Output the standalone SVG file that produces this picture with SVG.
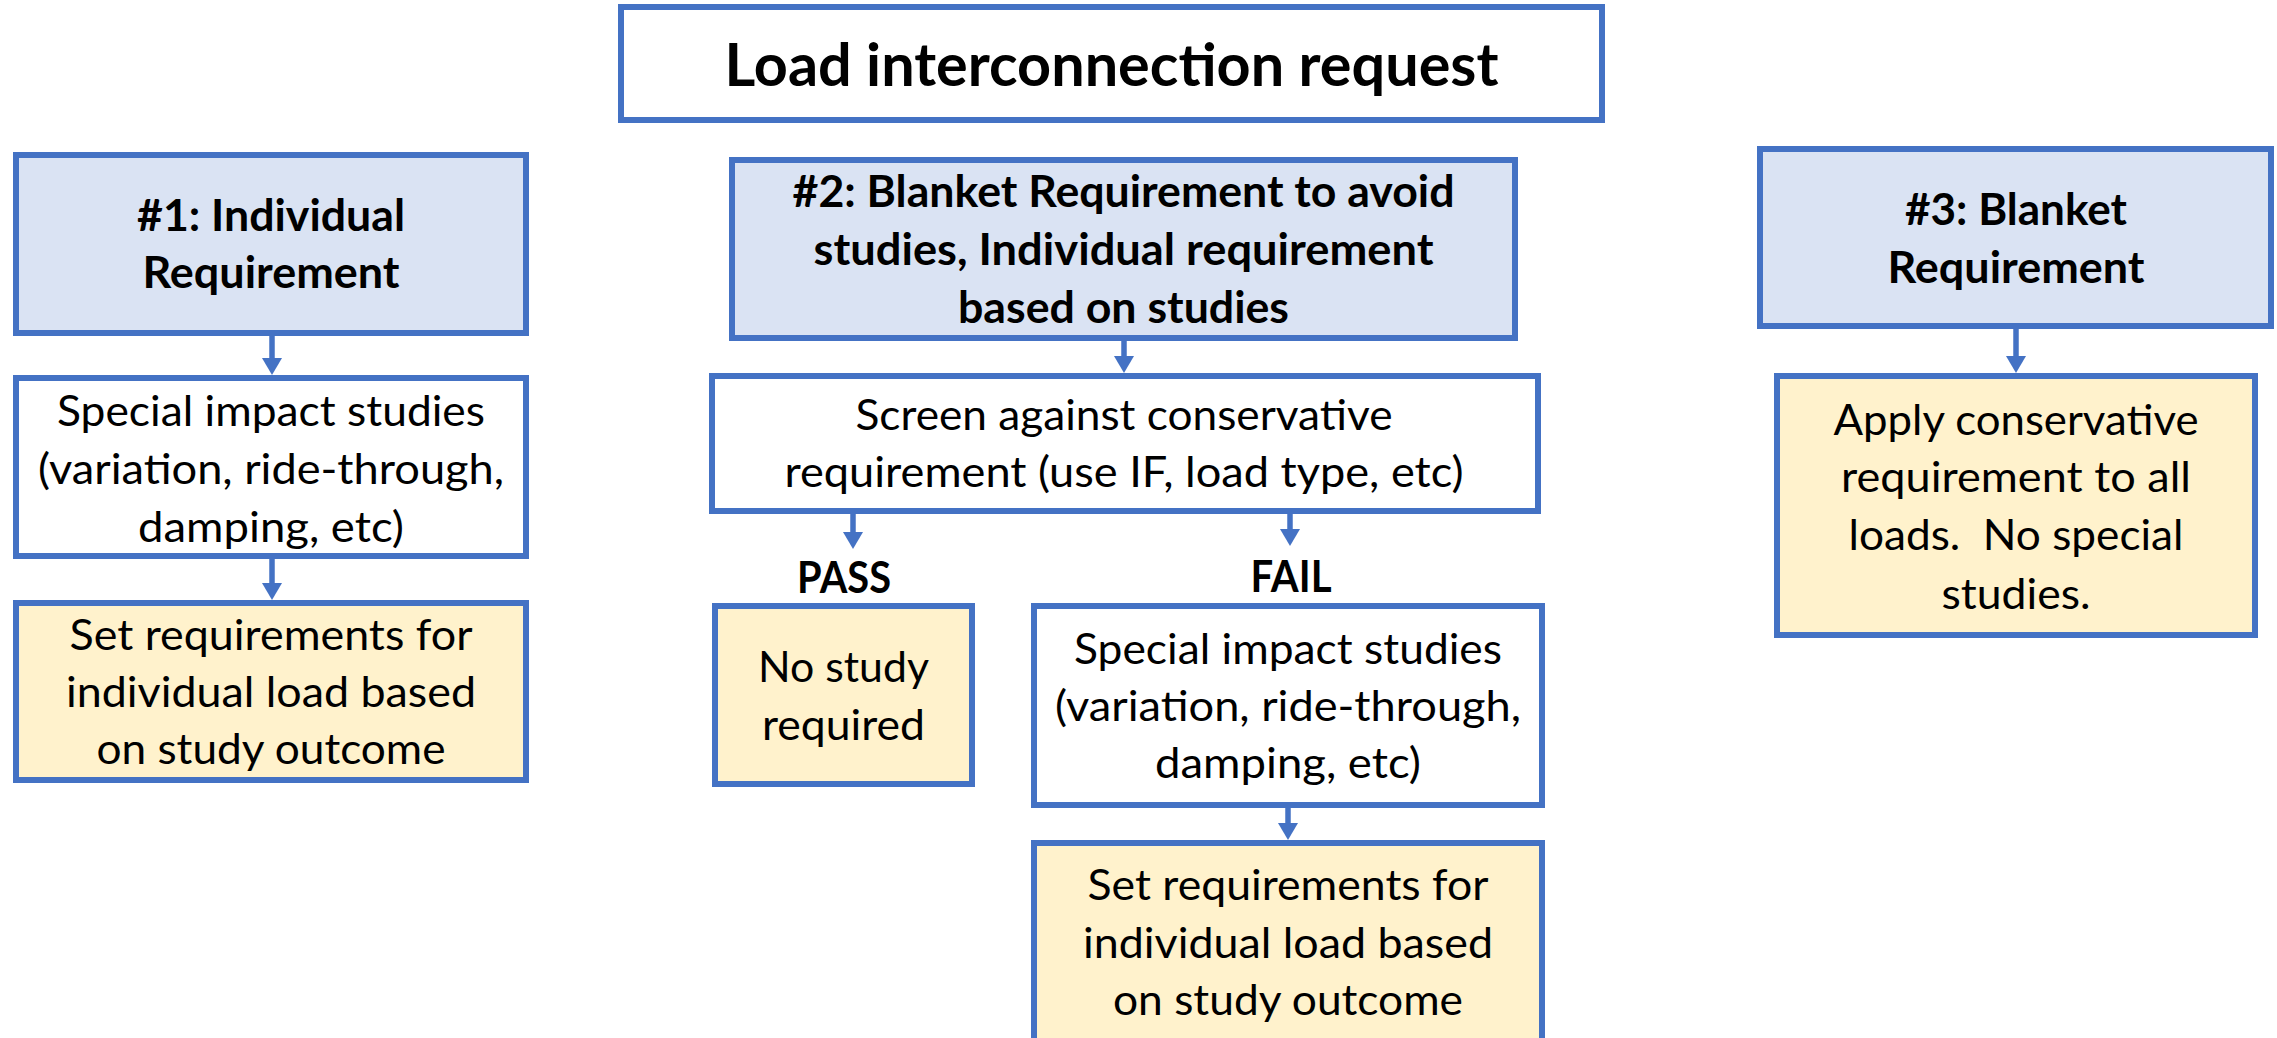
<svg xmlns="http://www.w3.org/2000/svg" width="2277" height="1038" viewBox="0 0 2277 1038">
  <defs>
    <style>
      .box { stroke: #4472C4; stroke-width: 6; }
      .plain { fill: #FFFFFF; }
      .blue { fill: #DAE3F3; }
      .cream { fill: #FFF2CC; }
      text { font-family: Lato, "Liberation Sans", sans-serif; fill: #000000; text-anchor: middle; }
      .t { font-size: 43px; }
      .b { font-size: 43px; font-weight: bold; }
      .title { font-size: 60px; font-weight: bold; }
      .link { stroke: #4472C4; stroke-width: 5.5; fill: none; marker-end: url(#head); }
    </style>
    <marker id="head" viewBox="0 0 17 20" refX="3" refY="10" markerWidth="17" markerHeight="20" markerUnits="userSpaceOnUse" orient="auto">
      <path d="M0,0 L17,10 L0,20 Z" fill="#4472C4"/>
    </marker>
  </defs>

  <rect width="2277" height="1038" fill="#FFFFFF"/>

  <!-- connectors -->
  <g id="connectors">
    <line class="link" x1="272" y1="333" x2="272" y2="361"/>
    <line class="link" x1="272" y1="556" x2="272" y2="586"/>
    <line class="link" x1="1124" y1="338" x2="1124" y2="359"/>
    <line class="link" x1="853" y1="511" x2="853" y2="535"/>
    <line class="link" x1="1290" y1="511" x2="1290" y2="532"/>
    <line class="link" x1="1288" y1="805" x2="1288" y2="826"/>
    <line class="link" x1="2016" y1="326" x2="2016" y2="359"/>
  </g>

  <!-- header -->
  <g id="request">
    <rect class="box plain" x="621" y="7" width="981" height="113"/>
    <text class="title" x="1111.5" y="86" textLength="774" lengthAdjust="spacingAndGlyphs">Load interconnection request</text>
  </g>

  <!-- option 1 column -->
  <g id="option1">
    <rect class="box blue" x="16" y="155" width="510" height="178"/>
    <text class="b" x="271" y="231" textLength="268" lengthAdjust="spacingAndGlyphs">#1: Individual</text>
    <text class="b" x="271" y="288" textLength="257" lengthAdjust="spacingAndGlyphs">Requirement</text>
  </g>
  <g id="studies1">
    <rect class="box plain" x="16" y="378" width="510" height="178"/>
    <text class="t" x="271" y="426" textLength="428" lengthAdjust="spacingAndGlyphs">Special impact studies</text>
    <text class="t" x="271" y="484" textLength="466" lengthAdjust="spacingAndGlyphs">(variation, ride-through,</text>
    <text class="t" x="271" y="542" textLength="266" lengthAdjust="spacingAndGlyphs">damping, etc)</text>
  </g>
  <g id="result1">
    <rect class="box cream" x="16" y="603" width="510" height="177"/>
    <text class="t" x="271" y="650" textLength="403" lengthAdjust="spacingAndGlyphs">Set requirements for</text>
    <text class="t" x="271" y="707" textLength="410" lengthAdjust="spacingAndGlyphs">individual load based</text>
    <text class="t" x="271" y="764" textLength="349" lengthAdjust="spacingAndGlyphs">on study outcome</text>
  </g>

  <!-- option 2 column -->
  <g id="option2">
    <rect class="box blue" x="732" y="160" width="783" height="178"/>
    <text class="b" x="1123.5" y="207" textLength="662" lengthAdjust="spacingAndGlyphs">#2: Blanket Requirement to avoid</text>
    <text class="b" x="1123.5" y="265" textLength="620" lengthAdjust="spacingAndGlyphs">studies, Individual requirement</text>
    <text class="b" x="1123.5" y="323" textLength="331" lengthAdjust="spacingAndGlyphs">based on studies</text>
  </g>
  <g id="screen">
    <rect class="box plain" x="712" y="376" width="826" height="135"/>
    <text class="t" x="1124" y="430" textLength="537" lengthAdjust="spacingAndGlyphs">Screen against conservative</text>
    <text class="t" x="1124" y="487" textLength="679" lengthAdjust="spacingAndGlyphs">requirement (use IF, load type, etc)</text>
  </g>
  <g id="pass-label">
    <text class="b" x="844" y="593" textLength="94" lengthAdjust="spacingAndGlyphs">PASS</text>
  </g>
  <g id="fail-label">
    <text class="b" x="1291" y="592" textLength="81" lengthAdjust="spacingAndGlyphs">FAIL</text>
  </g>
  <g id="no-study">
    <rect class="box cream" x="715" y="606" width="257" height="178"/>
    <text class="t" x="843.5" y="682" textLength="171" lengthAdjust="spacingAndGlyphs">No study</text>
    <text class="t" x="843.5" y="740" textLength="163" lengthAdjust="spacingAndGlyphs">required</text>
  </g>
  <g id="studies2">
    <rect class="box plain" x="1034" y="606" width="508" height="199"/>
    <text class="t" x="1288" y="664" textLength="428" lengthAdjust="spacingAndGlyphs">Special impact studies</text>
    <text class="t" x="1288" y="721" textLength="466" lengthAdjust="spacingAndGlyphs">(variation, ride-through,</text>
    <text class="t" x="1288" y="778" textLength="266" lengthAdjust="spacingAndGlyphs">damping, etc)</text>
  </g>
  <g id="result2">
    <rect class="box cream" x="1034" y="843" width="508" height="215"/>
    <text class="t" x="1288" y="900" textLength="401" lengthAdjust="spacingAndGlyphs">Set requirements for</text>
    <text class="t" x="1288" y="958" textLength="410" lengthAdjust="spacingAndGlyphs">individual load based</text>
    <text class="t" x="1288" y="1015" textLength="350" lengthAdjust="spacingAndGlyphs">on study outcome</text>
  </g>

  <!-- option 3 column -->
  <g id="option3">
    <rect class="box blue" x="1760" y="149" width="511" height="177"/>
    <text class="b" x="2016" y="225" textLength="222" lengthAdjust="spacingAndGlyphs">#3: Blanket</text>
    <text class="b" x="2016" y="283" textLength="257" lengthAdjust="spacingAndGlyphs">Requirement</text>
  </g>
  <g id="result3">
    <rect class="box cream" x="1777" y="376" width="478" height="259"/>
    <text class="t" x="2016" y="435" textLength="365" lengthAdjust="spacingAndGlyphs">Apply conservative</text>
    <text class="t" x="2016" y="492" textLength="350" lengthAdjust="spacingAndGlyphs">requirement to all</text>
    <text class="t" x="2016" y="550" textLength="335" lengthAdjust="spacingAndGlyphs" xml:space="preserve">loads.  No special</text>
    <text class="t" x="2016" y="609" textLength="149" lengthAdjust="spacingAndGlyphs">studies.</text>
  </g>
</svg>
